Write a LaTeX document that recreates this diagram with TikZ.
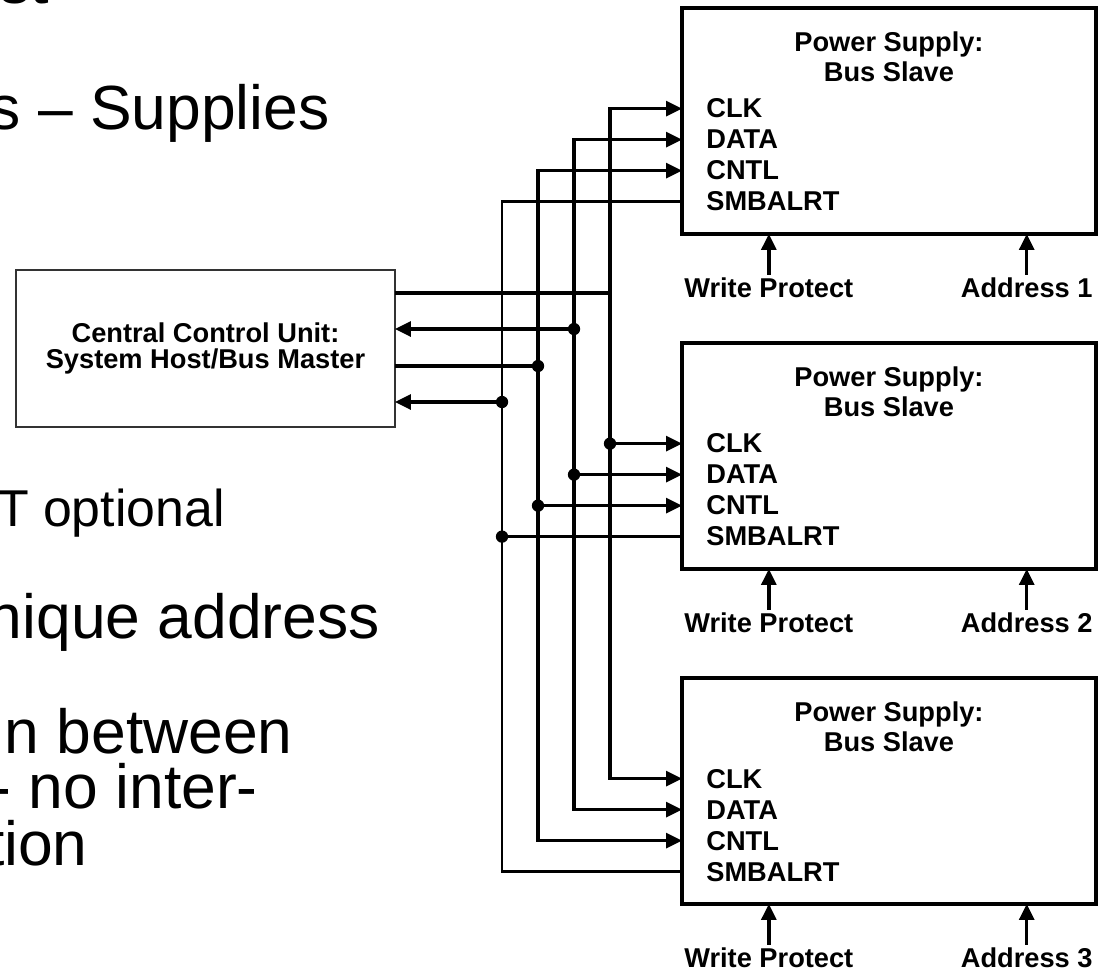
\documentclass[tikz,border=0pt]{standalone}
\usepackage{fontspec}
\setmainfont{Liberation Sans}
\usetikzlibrary{positioning,arrows.meta,calc}

\tikzset{
  unitbox/.style={draw, line width=1.9pt, outer sep=0pt, minimum width=8.28cm, minimum height=4.52cm, anchor=north west},
  hostbox/.style={draw=black!80, line width=1.3pt, outer sep=0pt, minimum width=7.58cm, minimum height=3.14cm, align=center, font=\fontsize{15.5}{15.1}\selectfont\bfseries},
  lbl/.style={inner sep=0pt, font=\fontsize{15.5}{17.2}\selectfont\bfseries},
  slide/.style={inner sep=0pt, anchor=base east, font=\fontsize{35.5}{36}\selectfont},
  wire/.style={line width=1.9pt, >={Triangle[length=9pt,width=8.4pt]}},
  alrt/.style={line width=1.4pt},
}

\begin{document}
\begin{tikzpicture}[x=0.02cm, y=-0.02cm]
\fill[white] (0,0) rectangle (1105,972);
\clip (0,0) rectangle (1105,972);

\node[slide, font=\fontsize{32}{32}\selectfont\bfseries] (hd) at (50,4) {st};
\node[slide] (l1) at (330,130) {s – Supplies};
\node[slide, font=\fontsize{29.5}{30}\selectfont] (l2) at (225,527) {T optional};
\node[slide] (l3) at (380,638) {nique address};
\node[slide] (l4) at (293,753) {n between};
\node[slide] (l5) at (258,808) {- no inter-};
\node[slide] (l6) at (88,865) {tion};

\node[hostbox] (ccu) at (205.5,348.5) {Central Control Unit:\\System Host/Bus Master};

\foreach \i/\y in {1/8,2/343,3/678}{
  \node[unitbox] (ps\i) at (682,\y) {};
  \node[lbl, align=center, anchor=north] (ttl\i) at ($(ps\i.north)+(0,23)$) {Power Supply:\\Bus Slave};
  \node[lbl, anchor=base west] (clk\i) at ($(ps\i.north west)+(24,110)$) {CLK};
  \node[lbl, anchor=base west] (dat\i) at ($(ps\i.north west)+(24,141)$) {DATA};
  \node[lbl, anchor=base west] (cnt\i) at ($(ps\i.north west)+(24,172)$) {CNTL};
  \node[lbl, anchor=base west] (alr\i) at ($(ps\i.north west)+(24,203)$) {SMBALRT};
  \node[lbl, anchor=base west] (wp\i) at ($(ps\i.south west)+(2,64)$) {Write Protect};
  \node[lbl, anchor=base east] (ad\i) at ($(ps\i.south east)+(-3,64)$) {Address \i};
  \draw[wire,->] ($(wp\i.north)+(0,-3)$) -- (wp\i.north |- ps\i.south);
  \draw[wire,->] ($(ad\i.north)+(0,-3)$) -- (ad\i.north |- ps\i.south);
}

\coordinate (bclk) at (610,0);
\coordinate (bdat) at (574,0);
\coordinate (bcnt) at (538,0);
\coordinate (balr) at (502,0);
\coordinate (hclk) at ($(ccu.north east)+(0,23)$);
\coordinate (hdat) at ($(ccu.north east)+(0,59)$);
\coordinate (hcnt) at ($(ccu.north east)+(0,96)$);
\coordinate (halr) at ($(ccu.north east)+(0,132)$);

\draw[wire,<->] (ps1.west |- clk1) -- (bclk |- clk1) -- (bclk |- clk3) -- (ps3.west |- clk3);
\draw[wire,<->] (ps1.west |- dat1) -- (bdat |- dat1) -- (bdat |- dat3) -- (ps3.west |- dat3);
\draw[wire,<->] (ps1.west |- cnt1) -- (bcnt |- cnt1) -- (bcnt |- cnt3) -- (ps3.west |- cnt3);
\draw[wire,alrt] (ps1.west |- alr1) -- (balr |- alr1) -- (balr |- alr3) -- (ps3.west |- alr3);

\draw[wire,->] (bclk |- clk2) -- (ps2.west |- clk2);
\draw[wire,->] (bdat |- dat2) -- (ps2.west |- dat2);
\draw[wire,->] (bcnt |- cnt2) -- (ps2.west |- cnt2);
\draw[wire] (balr |- alr2) -- (ps2.west |- alr2);
\fill (bclk |- clk2) circle (3.5pt) (bdat |- dat2) circle (3.5pt)
      (bcnt |- cnt2) circle (3.5pt) (balr |- alr2) circle (3.5pt);

\draw[wire] (hclk) -- (hclk -| bclk);
\draw[wire,<-] (hdat) -- (hdat -| bdat);
\draw[wire] (hcnt) -- (hcnt -| bcnt);
\draw[wire,<-] (halr) -- (halr -| balr);
\fill (hdat -| bdat) circle (3.5pt) (hcnt -| bcnt) circle (3.5pt) (halr -| balr) circle (3.5pt);
\end{tikzpicture}
\end{document}
